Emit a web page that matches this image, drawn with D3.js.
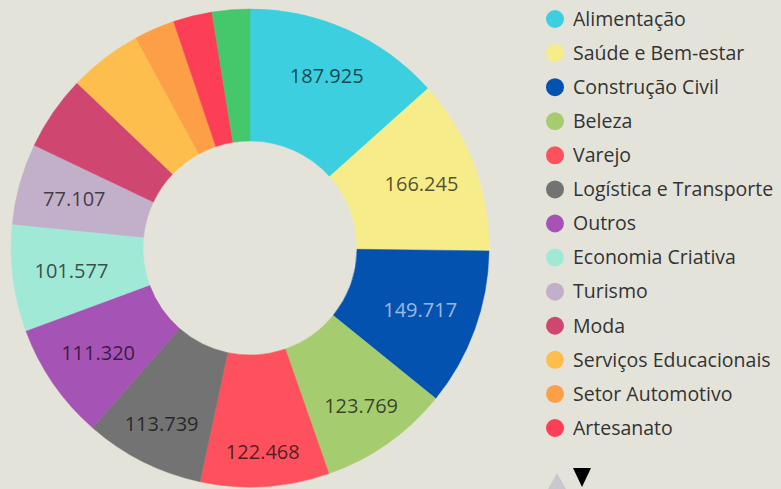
<!DOCTYPE html>
<html>
<head>
<meta charset="utf-8" />
<style>
body { margin: 0; background: #e4e3da; }
svg { display: block; }
.label { font-family: "Open Sans", sans-serif; font-size: 20px; }
.legend text { font-family: "Open Sans", sans-serif; font-size: 19.5px; fill: #333; }
</style>
</head>
<body>
<script src="https://cdn.jsdelivr.net/npm/d3@7"></script>
<script>
// segments, in drawing order (clockwise from 12 o'clock)
var categories = ["Alimentação", "Saúde e Bem-estar", "Construção Civil", "Beleza", "Varejo",
    "Logística e Transporte", "Outros", "Economia Criativa", "Turismo", "Moda",
    "Serviços Educacionais", "Setor Automotivo", "Artesanato", "Indústria"];
var values = [187925, 166245, 149717, 123769, 122468, 113739, 111320, 101577, 77107,
    71100, 69600, 38500, 37000, 35800];
var colors = ["#3ccfdf", "#f6ec8a", "#0452b0", "#a5cd70", "#fd525d", "#737373", "#a653b6",
    "#a0e9d6", "#c2afca", "#cf4771", "#fdbe4d", "#fd9f46", "#fc3f57", "#45c76b"];
// only these segments carry a value label
var labelled = ["Alimentação", "Saúde e Bem-estar", "Construção Civil", "Beleza", "Varejo",
    "Logística e Transporte", "Outros", "Economia Criativa", "Turismo"];
// legend shows the first page only
var legendCount = 13;

var width = 781, height = 489;
var cx = 250, cy = 248, outerR = 239, innerR = 107;

var svg = d3.select("body").append("svg")
    .attr("width", width)
    .attr("height", height);

var data = categories.map(function(c, i) { return {name: c, value: values[i]}; });

var color = d3.scaleOrdinal().domain(categories).range(colors);
var fmt = function(v) { return d3.format(",")(v).replace(/,/g, "."); };

var pie = d3.pie().sort(null).value(function(d) { return d.value; });
var arc = d3.arc().innerRadius(innerR).outerRadius(outerR);

// labels sit a little further out towards top and bottom
function labelPos(d) {
    var a = (d.startAngle + d.endAngle) / 2;
    var c = Math.cos(a);
    var r = 180 + (c > 0 ? 9 * c : 24 * Math.pow(-c, 3));
    return [r * Math.sin(a), -r * c];
}

var g = svg.append("g").attr("transform", "translate(" + cx + "," + cy + ")");

var arcs = pie(data);

g.selectAll("path")
    .data(arcs)
  .enter().append("path")
    .attr("d", arc)
    .attr("fill", function(d) { return color(d.data.name); })
    .attr("stroke", function(d) { return color(d.data.name); })
    .attr("stroke-width", 0.5);

g.selectAll(".label")
    .data(arcs.filter(function(d) { return labelled.indexOf(d.data.name) >= 0; }))
  .enter().append("text")
    .attr("class", "label")
    .attr("transform", function(d) { return "translate(" + labelPos(d) + ")"; })
    .attr("text-anchor", "middle")
    .attr("dy", "0.36em")
    .attr("fill", function(d) { return d.data.name === "Construção Civil" ? "#fff" : "#000"; })
    .attr("fill-opacity", function(d) { return d.data.name === "Construção Civil" ? 0.6 : 0.68; })
    .text(function(d) { return fmt(d.data.value); });

// legend
var legendY = d3.scalePoint()
    .domain(categories.slice(0, legendCount))
    .range([19, 428]);

var legend = svg.append("g").attr("class", "legend");

var item = legend.selectAll("g")
    .data(categories.slice(0, legendCount))
  .enter().append("g")
    .attr("transform", function(d) { return "translate(555," + legendY(d) + ")"; });

item.append("circle")
    .attr("r", 9)
    .attr("fill", function(d) { return color(d); });

item.append("text")
    .attr("x", 18)
    .attr("dy", "0.35em")
    .text(function(d) { return d; });

// paging arrows
legend.append("path")
    .attr("d", "M548,489 L557,473 L566,489 Z")
    .attr("fill", "#c9c8cf");
legend.append("path")
    .attr("d", "M573,468 L591,468 L582,487 Z")
    .attr("fill", "#000");
</script>
</body>
</html>
